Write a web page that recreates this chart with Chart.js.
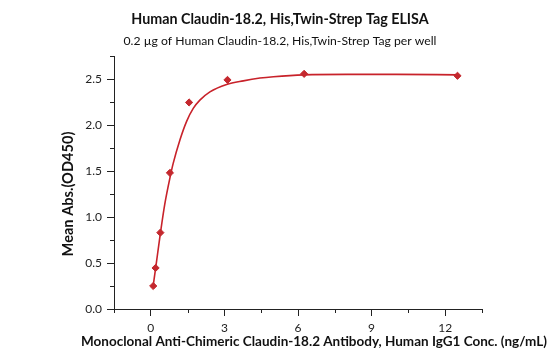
<!DOCTYPE html>
<html>
<head>
<meta charset="utf-8">
<script src="https://cdn.jsdelivr.net/npm/chart.js@4"></script>
<style>
  body { margin: 0; background: #fff; }
</style>
</head>
<body>
<canvas id="main" width="550" height="360"></canvas>
<script>
// measured points (ng/mL vs OD450)
const conc = [0.098, 0.195, 0.39, 0.78, 1.56, 3.125, 6.25, 12.5];
const od450 = [0.25, 0.446, 0.83, 1.48, 2.245, 2.49, 2.556, 2.535];

// fitted curve
const fitX = [0.1, 0.2, 0.4, 0.57, 0.8, 0.91, 1.19, 1.46, 1.73, 2.0, 2.41, 3.09, 3.77, 4.45, 5.0, 6.25, 8.0, 10.0, 12.5];
const fitY = [0.26, 0.45, 0.84, 1.14, 1.45, 1.58, 1.84, 2.04, 2.18, 2.27, 2.36, 2.44, 2.48, 2.51, 2.525, 2.545, 2.55, 2.55, 2.545];

const xTicks = [0, 3, 6, 9, 12];
const xMinor = [-1.5, 1.5, 4.5, 7.5, 10.5, 13.5];
const yTicks = [0, 0.5, 1.0, 1.5, 2.0, 2.5];
const yMinor = [0.25, 0.75, 1.25, 1.75, 2.25, 2.75];

const titleText = "Human Claudin-18.2, His,Twin-Strep Tag ELISA";
const subtitleText = "0.2 \u00b5g of Human Claudin-18.2, His,Twin-Strep Tag per well";
const xTitle = "Monoclonal Anti-Chimeric Claudin-18.2 Antibody, Human IgG1 Conc. (ng/mL)";
const yTitle = "Mean Abs.(OD450)";

const FONT = "Lato, 'Open Sans', sans-serif";

const textPlugin = {
    id: 'texts',
    afterDraw(chart) {
        const ctx = chart.ctx;
        const xs = chart.scales.x;
        const ys = chart.scales.y;
        ctx.save();
        ctx.fillStyle = '#111';
        ctx.textAlign = 'center';
        ctx.textBaseline = 'middle';
        ctx.font = "bold 14.3px " + FONT;
        ctx.fillText(titleText, 280, 19);
        ctx.font = "12.2px " + FONT;
        ctx.fillText(subtitleText, 280, 41);
        ctx.font = "bold 13.5px " + FONT;
        ctx.fillText(xTitle, 314, 342);
        ctx.translate(68, 194);
        ctx.rotate(-Math.PI / 2);
        ctx.font = "bold 14.6px " + FONT;
        ctx.fillText(yTitle, 0, 0);
        ctx.restore();

        // minor ticks
        ctx.save();
        ctx.strokeStyle = '#222';
        ctx.lineWidth = 1;
        ctx.beginPath();
        xMinor.forEach(v => {
            const px = Math.round(xs.getPixelForValue(v)) + 0.5;
            ctx.moveTo(px, xs.top);
            ctx.lineTo(px, xs.top + 4);
        });
        yMinor.forEach(v => {
            const py = Math.round(ys.getPixelForValue(v)) + 0.5;
            ctx.moveTo(ys.right, py);
            ctx.lineTo(ys.right - 4, py);
        });
        ctx.stroke();
        ctx.restore();
    }
};

const myChart = new Chart(document.getElementById('main'), {
    type: 'scatter',
    data: {
        datasets: [{
            label: 'fit',
            data: fitX.map((x, i) => ({ x: x, y: fitY[i] })),
            showLine: true,
            borderColor: '#c8222a',
            borderWidth: 1.6,
            pointRadius: 0,
            cubicInterpolationMode: 'monotone',
            order: 2
        }, {
            label: 'OD450',
            data: conc.map((x, i) => ({ x: x, y: od450[i] })),
            pointStyle: 'rectRot',
            pointRadius: 3.6,
            backgroundColor: '#c4282e',
            borderColor: '#c4282e',
            borderWidth: 1,
            order: 1
        }]
    },
    options: {
        responsive: false,
        animation: false,
        devicePixelRatio: 1,
        layout: { padding: { left: 0, right: 68, top: 56, bottom: 0 } },
        plugins: {
            legend: { display: false },
            tooltip: { enabled: false }
        },
        scales: {
            x: {
                type: 'linear',
                min: -1.5,
                max: 13.5,
                afterBuildTicks: scale => { scale.ticks = xTicks.map(v => ({ value: v })); },
                afterFit: scale => { scale.height = 51; },
                grid: { drawOnChartArea: false, tickLength: 7, tickColor: '#222' },
                border: { color: '#222', width: 1 },
                ticks: {
                    color: '#222',
                    padding: 5,
                    font: { family: FONT, size: 12 },
                    callback: v => String(v)
                }
            },
            y: {
                min: 0,
                max: 2.75,
                afterBuildTicks: scale => { scale.ticks = yTicks.map(v => ({ value: v })); },
                afterFit: scale => { scale.width = 114; },
                grid: { drawOnChartArea: false, tickLength: 7, tickColor: '#222' },
                border: { color: '#222', width: 1 },
                ticks: {
                    color: '#222',
                    padding: 5,
                    font: { family: FONT, size: 12 },
                    callback: v => v.toFixed(1)
                }
            }
        }
    },
    plugins: [textPlugin]
});
</script>
</body>
</html>
